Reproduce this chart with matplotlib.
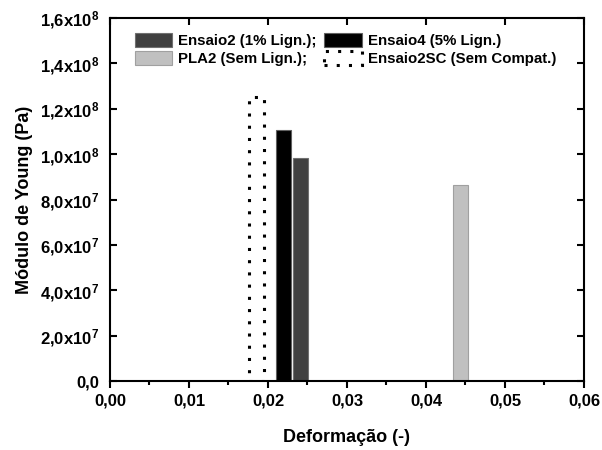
import numpy as np
import matplotlib.pyplot as plt
from matplotlib.ticker import MultipleLocator, FuncFormatter

plt.rcParams['font.family'] = ['Liberation Sans', 'DejaVu Sans']
plt.rcParams['font.weight'] = 'bold'
plt.rcParams['mathtext.fontset'] = 'custom'
plt.rcParams['mathtext.rm'] = 'Liberation Sans:bold'
plt.rcParams['mathtext.default'] = 'rm'

# data
labels = ['Ensaio2 (1% Lign.);', 'Ensaio4 (5% Lign.)', 'PLA2 (Sem Lign.);', 'Ensaio2SC (Sem Compat.)']
deform = [0.0241, 0.0220, 0.0444, 0.0185]
young = [0.983e8, 1.106e8, 0.864e8, 1.252e8]
width = 0.0019


def fmt_y(v, pos):
    if abs(v) < 1:
        return '0,0'
    if v < 0:
        return ''
    e = int(np.floor(np.log10(v) + 1e-9))
    m = v / 10**e
    return ('%.1f' % m).replace('.', ',') + r'x10$^{%d}$' % e


fig = plt.figure(figsize=(6.02, 4.5), dpi=100)
ax = fig.add_axes([0.1827, 0.1533, 0.7874, 0.8067])

h2 = ax.bar(deform[0], young[0], width, color='#404040', edgecolor='#707070', lw=0.8)
h4 = ax.bar(deform[1], young[1], width, color='black', edgecolor='#606060', lw=0.8)
hp = ax.bar(deform[2], young[2], width, color='#c0c0c0', edgecolor='#a0a0a0', lw=0.8)
hs = ax.bar(deform[3], young[3], width, color='none', edgecolor='black', lw=2.2,
            linestyle=(0, (1, 3)))

ax.set_xlim(0, 0.06)
ax.set_ylim(0, 1.6e8)
ax.xaxis.set_major_locator(MultipleLocator(0.01))
ax.xaxis.set_minor_locator(MultipleLocator(0.005))
ax.yaxis.set_major_locator(MultipleLocator(2e7))
ax.xaxis.set_major_formatter(FuncFormatter(lambda v, p: ('%.2f' % abs(v)).replace('.', ',')))
ax.yaxis.set_major_formatter(FuncFormatter(fmt_y))
ax.tick_params(axis='x', which='both', direction='out', top=False, labelsize=12, width=1.5)
ax.tick_params(axis='x', which='major', length=5, pad=4)
ax.tick_params(axis='x', which='minor', length=3)
ax.tick_params(axis='y', which='major', direction='in', labelsize=12, length=5, width=1.5, pad=8)
sec = ax.secondary_xaxis('top')
sec.xaxis.set_major_locator(MultipleLocator(0.01))
sec.tick_params(direction='in', length=5, width=1.5, labeltop=False)
sec.spines['top'].set_visible(False)
secy = ax.secondary_yaxis('right')
secy.yaxis.set_major_locator(MultipleLocator(2e7))
secy.tick_params(direction='in', length=5, width=1.5, labelright=False)
secy.spines['right'].set_visible(False)
for s in ax.spines.values():
    s.set_linewidth(1.5)

ax.set_xlabel('Deformação (-)', fontsize=13, fontweight='bold', labelpad=15)
ax.set_ylabel('Módulo de Young (Pa)', fontsize=13, fontweight='bold', labelpad=5)

ax.legend([h2, hp, h4, hs], [labels[0], labels[2], labels[1], labels[3]], ncol=2,
          loc='upper left', bbox_to_anchor=(0.04, 0.975), frameon=False,
          fontsize=10.8, handlelength=2.5, handleheight=1.1, columnspacing=0.5,
          handletextpad=0.4, labelspacing=0.15, borderaxespad=0)

fig.savefig('out.png', dpi=100)
